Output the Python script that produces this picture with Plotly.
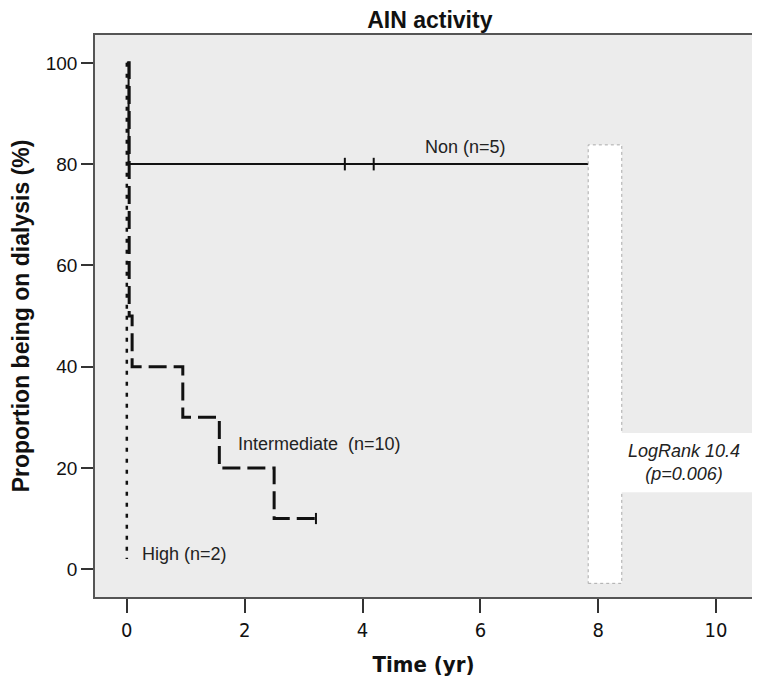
import plotly.graph_objects as go

# Kaplan-Meier step data
non_t = [0, 0.03, 0.03, 7.86]
non_p = [100, 100, 80, 80]
non_cens_t = [3.70, 4.19]
non_cens_p = [80, 80]

inter_t = [0.01, 0.04, 0.04, 0.09, 0.09, 0.95, 0.95, 1.57, 1.57, 2.50, 2.50, 3.21]
inter_p = [100, 100, 50, 50, 40, 40, 30, 30, 20, 20, 10, 10]
inter_cens_t = [3.21]
inter_cens_p = [10]

high_t = [0.0, 0.0]
high_p = [100, 2]

x_ticks = [0, 2, 4, 6, 8, 10]
y_ticks = [0, 20, 40, 60, 80, 100]

fig = go.Figure()

fig.add_trace(go.Scatter(x=high_t, y=high_p, mode='lines',
                         line=dict(color='#111', width=2.5, dash='4px,7px')))
fig.add_trace(go.Scatter(x=inter_t, y=inter_p, mode='lines',
                         line=dict(color='#111', width=3, dash='18px,7px')))
fig.add_trace(go.Scatter(x=inter_cens_t, y=inter_cens_p, mode='markers',
                         marker=dict(symbol='line-ns', size=8, line=dict(color='#111', width=2))))
fig.add_trace(go.Scatter(x=non_t, y=non_p, mode='lines',
                         line=dict(color='#111', width=2)))
fig.add_trace(go.Scatter(x=non_cens_t, y=non_cens_p, mode='markers',
                         marker=dict(symbol='line-ns', size=9, line=dict(color='#111', width=2))))

# white boxes (legend remnant + LogRank box)
fig.add_shape(type='rect', x0=7.83, x1=8.4, y0=-2.8, y1=83.8, fillcolor='white',
              line=dict(color='#aaa', width=1, dash='dot'), layer='above')
fig.add_shape(type='rect', x0=8.27, x1=10.62, y0=15.2, y1=26.9, fillcolor='white',
              line=dict(width=0), layer='above')

txt = dict(size=18, color='#222', family='Liberation Sans, Arial')
fig.add_annotation(x=5.74, y=83.3, text='Non (n=5)', showarrow=False, font=txt)
fig.add_annotation(x=1.85, y=24.8, text='Intermediate&nbsp; (n=10)', showarrow=False,
                   xanchor='left', font=txt)
fig.add_annotation(x=0.22, y=3.0, text='High (n=2)', showarrow=False,
                   xanchor='left', font=txt)
fig.add_annotation(x=9.45, y=21.0, text='<i>LogRank 10.4<br>(p=0.006)</i>', showarrow=False,
                   font=txt)

cond = 'DejaVu Sans Condensed, Liberation Sans Narrow, Arial Narrow, sans-serif'

# page body adds an 8px offset, so margins are shifted to compensate
fig.update_layout(
    width=760, height=684,
    margin=dict(l=87, r=16, t=27, b=95),
    paper_bgcolor='white', plot_bgcolor='#ececec',
    showlegend=False,
    font=dict(family='Liberation Sans, Arial', color='#111'),
    title=dict(text='<b>AIN activity</b>', x=0.555, xanchor='center', y=0.995, yanchor='top',
               font=dict(size=23)),
)
fig.update_xaxes(range=[-0.54, 10.61], tickvals=x_ticks, showgrid=False, zeroline=False,
                 automargin=False,
                 showline=True, mirror=True, linecolor='#555', linewidth=1.5,
                 ticks='outside', ticklen=14, tickwidth=2, tickcolor='#333',
                 tickfont=dict(size=20, family=cond),
                 title=dict(text='<b>Time (yr)</b>', standoff=16,
                            font=dict(size=22, family=cond)))
fig.update_yaxes(range=[-5.5, 105.5], tickvals=y_ticks, showgrid=False, zeroline=False,
                 automargin=False,
                 showline=True, mirror=True, linecolor='#555', linewidth=1.5,
                 ticks='outside', ticklen=12, tickwidth=2, tickcolor='#333',
                 tickfont=dict(size=19),
                 title=dict(text='<b>Proportion being on dialysis (%)</b>', standoff=12,
                            font=dict(size=23)))

fig.write_html("out.html")
